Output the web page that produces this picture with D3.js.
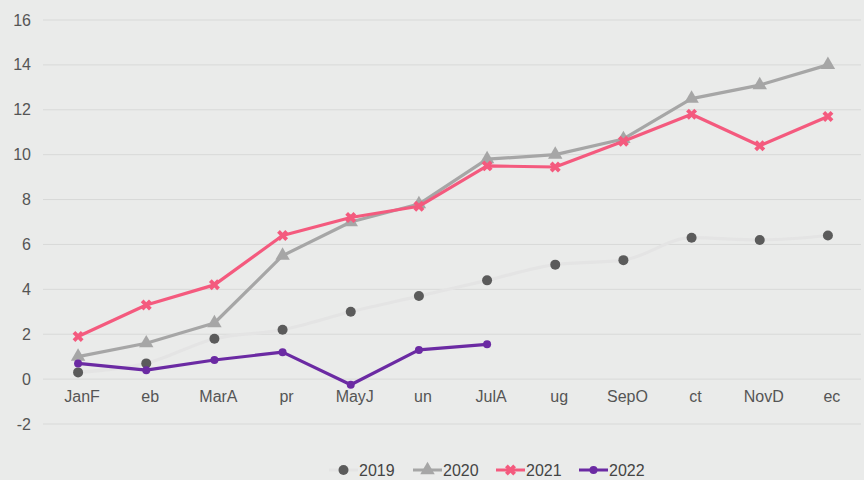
<!DOCTYPE html>
<html>
<head>
<meta charset="utf-8">
<script src="https://cdn.jsdelivr.net/npm/d3@7"></script>
<style>
  body { margin: 0; background: #eaebea; }
  svg { display: block; font-family: "Liberation Sans", Arial, sans-serif; }
</style>
</head>
<body>
<div id="chart"></div>
<script>
// Category labels and series values
const months = ['JanF', 'eb', 'MarA', 'pr', 'MayJ', 'un', 'JulA', 'ug', 'SepO', 'ct', 'NovD', 'ec'];
const yTicks = [-2, 0, 2, 4, 6, 8, 10, 12, 14, 16];
const v2019 = [0.3, 0.7, 1.8, 2.2, 3.0, 3.7, 4.4, 5.1, 5.3, 6.3, 6.2, 6.4];
const v2020 = [1.0, 1.6, 2.5, 5.5, 7.0, 7.8, 9.8, 10.0, 10.7, 12.5, 13.1, 14.0];
const v2021 = [1.9, 3.3, 4.2, 6.4, 7.2, 7.7, 9.5, 9.45, 10.6, 11.8, 10.4, 11.7];
const v2022 = [0.7, 0.4, 0.85, 1.2, -0.25, 1.3, 1.55];

const width = 864;
const height = 480;

const svg = d3.select('#chart')
  .append('svg')
  .attr('width', width)
  .attr('height', height);

svg.append('rect').attr('width', width).attr('height', height).attr('fill', '#eaebea');

// scales
const x = d3.scaleBand().domain(months).range([44, 862]);
const y = d3.scaleLinear().domain([-2, 16]).range([424, 20]);
const cx = (d, i) => x(months[i]) + x.bandwidth() / 2;

// grid lines + y labels
svg.append('g')
  .selectAll('line')
  .data(yTicks)
  .enter()
  .append('line')
  .attr('x1', 43)
  .attr('x2', 861)
  .attr('y1', d => y(d))
  .attr('y2', d => y(d))
  .attr('stroke', '#d8d9d8')
  .attr('stroke-width', 1);

svg.append('g')
  .selectAll('text')
  .data(yTicks)
  .enter()
  .append('text')
  .attr('x', 31)
  .attr('y', d => y(d) + 5.5)
  .attr('text-anchor', 'end')
  .style('font-size', '16px')
  .style('fill', '#555')
  .text(d => d);

// x labels
svg.append('g')
  .selectAll('text')
  .data(months)
  .enter()
  .append('text')
  .attr('x', d => x(d) + x.bandwidth() / 2 + 4)
  .attr('y', 402)
  .attr('text-anchor', 'middle')
  .style('font-size', '16px')
  .style('fill', '#555')
  .text(d => d);

const series = [
  { name: '2019', values: v2019, line: '#e4e4e4', marker: '#5b5b5b', symbol: 'dot', r: 5, curve: d3.curveMonotoneX },
  { name: '2020', values: v2020, line: '#a6a6a6', marker: '#a6a6a6', symbol: d3.symbolTriangle, size: 90, curve: d3.curveLinear },
  { name: '2021', values: v2021, line: '#f45a7e', marker: '#f45a7e', symbol: d3.symbolCross, size: 75, rotate: 45, curve: d3.curveLinear },
  { name: '2022', values: v2022, line: '#6b2aa3', marker: '#6b2aa3', symbol: 'dot', r: 4, curve: d3.curveLinear },
];

function drawMarker(g, s, px, py) {
  if (s.symbol === 'dot') {
    g.append('circle').attr('cx', px).attr('cy', py).attr('r', s.r).attr('fill', s.marker);
  } else {
    g.append('path')
      .attr('d', d3.symbol().type(s.symbol).size(s.size)())
      .attr('transform', `translate(${px},${py}) rotate(${s.rotate || 0})`)
      .attr('fill', s.marker);
  }
}

series.forEach(s => {
  const g = svg.append('g');
  const line = d3.line()
    .x(cx)
    .y(d => y(d))
    .curve(s.curve);
  g.append('path')
    .datum(s.values)
    .attr('d', line)
    .attr('fill', 'none')
    .attr('stroke', s.line)
    .attr('stroke-width', 3.2)
    .attr('stroke-linejoin', 'round');
  s.values.forEach((v, i) => drawMarker(g, s, cx(v, i), y(v)));
});

// legend
const legendX = [329, 413, 496, 579];
const legend = svg.append('g');
series.forEach((s, i) => {
  const lx = legendX[i];
  const ly = 470;
  legend.append('line')
    .attr('x1', lx).attr('x2', lx + 29)
    .attr('y1', ly).attr('y2', ly)
    .attr('stroke', s.line)
    .attr('stroke-width', 3);
  drawMarker(legend, s, lx + 14.5, ly);
  legend.append('text')
    .attr('x', lx + 30)
    .attr('y', ly + 5.5)
    .style('font-size', '16px')
    .style('fill', '#444')
    .text(s.name);
});
</script>
</body>
</html>
